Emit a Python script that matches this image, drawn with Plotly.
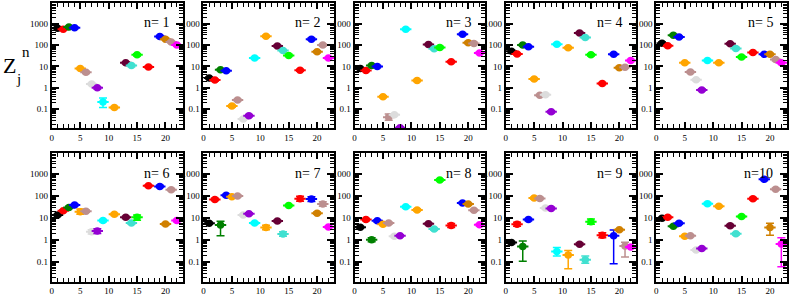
import plotly.graph_objects as go

# ---------------- data ----------------
X_POS = [1, 2, 3, 4, 5, 6, 7, 8, 9, 11, 13, 14, 15, 17, 19, 20, 21, 22]
COLORS = ["#000000", "#ff0000", "#008000", "#0000ff", "#ffa500", "#bc8f8f",
          "#dcdcdc", "#9400d3", "#00ffff", "#ffa500", "#670035", "#40e0d0",
          "#00ff00", "#ff0000", "#0000ff", "#d08000", "#bc8f8f", "#ff00ff"]

Z1 = [620, 550, 700, 650, 8.0, 5.3, 1.5, 1.0, 0.22, 0.12, 15, 11, 35, 9.5, 250, 190, 140, 100]
Z2 = [2.9, 2.3, 7.0, 6.3, 0.14, 0.27, 0.035, 0.05, 25, 260, 90, 56, 33, 6.6, 190, 49, 100, 25]
Z3 = [8.0, 6.5, 11, 10, 0.38, 0.042, 0.055, 0.0135, 550, 2.2, 107, 68, 78, 16.5, 320, 130, 120, 43]
Z4 = [52, 38, 100, 84, 2.6, 0.45, 0.48, 0.075, 110, 75, 370, 225, 35, 1.6, 37, 8.8, 9.3, 19]
Z5 = [123, 93, 290, 240, 15, 5.5, 2.4, 0.8, 19, 15, 115, 70, 28, 45, 37, 37, 21, 15]
Z6 = [14, 22, 31, 40, 20, 21, 2.4, 2.6, 7.8, 15, 11, 6.0, 11, 300, 280, 5.4, 200, 7.8]
Z7 = [5.9, 72, 4.9, 110, 94, 104, 14, 16, 6.0, 3.8, 7.5, 1.9, 38, 78, 75, 17, 45, 4.0]
Z8 = [3.9, 8.7, 1.05, 7.6, 5.3, 6.0, 1.5, 1.6, 33, 24, 5.6, 3.2, 550, 4.7, 50, 44, 23, 5.0]
Z9 = [0.78, 5.3, 0.52, 8.7, 83, 80, 29, 28, 0.31, 0.21, 0.66, 0.13, 6.9, 1.7, 1.6, 3.0, 0.55, 0.49]
Z10 = [10, 11, 4.3, 5.9, 1.5, 1.6, 0.36, 0.42, 46, 35, 4.6, 1.95, 12, 78, 590, 3.8, 210, 0.68]
PANELS = [Z1, Z2, Z3, Z4, Z5, Z6, Z7, Z8, Z9, Z10]
PANEL_LABELS = ["n= 1", "n= 2", "n= 3", "n= 4", "n= 5",
                "n= 6", "n= 7", "n= 8", "n= 9", "n=10"]

# typical relative uncertainty, with explicit (low, high) bounds where visible
REL_ERR = 0.12
ERR_BOUNDS = {
    (1, 9): (0.12, 0.33),
    (3, 6): (0.03, 0.06),
    (6, 5): (15, 26), (6, 7): (1.9, 3.0), (6, 8): (2.0, 3.3), (6, 15): (8, 14),
    (7, 3): (1.6, 7.3), (7, 11): (3.0, 4.8), (7, 14): (1.5, 2.4),
    (7, 17): (60, 100), (7, 19): (58, 95), (7, 21): (35, 57),
    (8, 3): (0.85, 1.3), (8, 17): (3.8, 5.8),
    (9, 2): (4.3, 6.5), (9, 3): (0.11, 0.93), (9, 9): (0.19, 0.46),
    (9, 11): (0.05, 0.34), (9, 14): (0.09, 0.19), (9, 15): (5.3, 9.2),
    (9, 17): (1.3, 2.2), (9, 19): (0.085, 2.9), (9, 21): (0.17, 0.8),
    (10, 20): (1.7, 5.9), (10, 22): (0.062, 1.3),
}
X_HALF_WIDTH = 1.0

Y_TICKS = [0.1, 1, 10, 100, 1000]
Y_TICK_TEXT = ["0.1", "1", "10", "100", "1000"]
X_TICKS = [0, 5, 10, 15, 20]

# ---------------- layout geometry (pixels) ----------------
W, H = 789, 297
COL_LEFT = [50, 202, 353.5, 505, 656]
PANEL_W = 131
ROW_TOP = [3, 153]
PANEL_H = [125, 128.5]

FONT = "Liberation Serif, Times New Roman, serif"

fig = go.Figure()
layout = dict(width=W, height=H, margin=dict(l=0, r=0, t=0, b=0),
              paper_bgcolor="white", plot_bgcolor="white", showlegend=False)
annotations = []

minor_y = [m * 10 ** e for e in range(-2, 4) for m in range(2, 10)]

for k, zvals in enumerate(PANELS):
    n = k + 1
    r, c = divmod(k, 5)
    xs = "" if k == 0 else str(k + 1)
    xref, yref = "x" + xs, "y" + xs
    x0 = COL_LEFT[c] / W
    x1 = (COL_LEFT[c] + PANEL_W) / W
    y1 = 1 - ROW_TOP[r] / H
    y0 = 1 - (ROW_TOP[r] + PANEL_H[r]) / H

    layout["xaxis" + xs] = dict(
        domain=[x0, x1], anchor=yref, range=[0, 23], tickmode="array",
        tickvals=X_TICKS, ticks="inside", ticklen=6, tickwidth=1.5,
        minor=dict(tickmode="linear", tick0=0, dtick=1, ticks="inside",
                   ticklen=4, tickwidth=1.2, tickcolor="black"),
        showline=True, linewidth=2, linecolor="black", mirror="ticks",
        showgrid=False, zeroline=False, tickcolor="black",
        tickfont=dict(family=FONT, size=9, color="black"))
    layout["yaxis" + xs] = dict(
        domain=[y0, y1], anchor=xref, type="log", range=[-1.88, 3.97],
        tickmode="array", tickvals=Y_TICKS, ticktext=Y_TICK_TEXT,
        ticks="inside", ticklen=7, tickwidth=1.5, tickcolor="black",
        minor=dict(tickmode="array", tickvals=minor_y, ticks="inside",
                   ticklen=4, tickwidth=1.2, tickcolor="black"),
        showline=True, linewidth=2, linecolor="black", mirror="ticks",
        showgrid=False, zeroline=False,
        tickfont=dict(family=FONT, size=9, color="black"))

    for xv, zv, col in zip(X_POS, zvals, COLORS):
        lo, hi = ERR_BOUNDS.get((n, xv), (zv / (1 + REL_ERR), zv * (1 + REL_ERR)))
        fig.add_trace(go.Scatter(
            x=[xv], y=[zv], mode="markers", xaxis=xref, yaxis=yref,
            marker=dict(color=col, size=7.5, line=dict(width=0)),
            error_x=dict(type="constant", value=X_HALF_WIDTH, color=col,
                         thickness=2, width=0),
            error_y=dict(type="data", symmetric=False, array=[hi - zv],
                         arrayminus=[zv - lo], color=col, thickness=1.5, width=4),
            hoverinfo="skip"))

    annotations.append(dict(
        text=PANEL_LABELS[k], xref="paper", yref="paper",
        x=(COL_LEFT[c] + PANEL_W - 12) / W, y=1 - (ROW_TOP[r] + 20) / H,
        xanchor="right", yanchor="middle", showarrow=False,
        font=dict(family=FONT, size=14, color="black")))

# y-axis title Z_j^n
annotations += [
    dict(text="Z", xref="paper", yref="paper", x=8 / W, y=1 - 65 / H,
         xanchor="center", yanchor="middle", showarrow=False,
         font=dict(family=FONT, size=22, color="black")),
    dict(text="n", xref="paper", yref="paper", x=24 / W, y=1 - 52 / H,
         xanchor="center", yanchor="middle", showarrow=False,
         font=dict(family=FONT, size=15, color="black")),
    dict(text="j", xref="paper", yref="paper", x=17 / W, y=1 - 79 / H,
         xanchor="center", yanchor="middle", showarrow=False,
         font=dict(family=FONT, size=15, color="black")),
]
layout["annotations"] = annotations
fig.update_layout(**layout)
fig.write_html("out.html", config={"displayModeBar": False},
               post_script="document.body.style.margin='0';"
                           "document.body.style.padding='0';")
